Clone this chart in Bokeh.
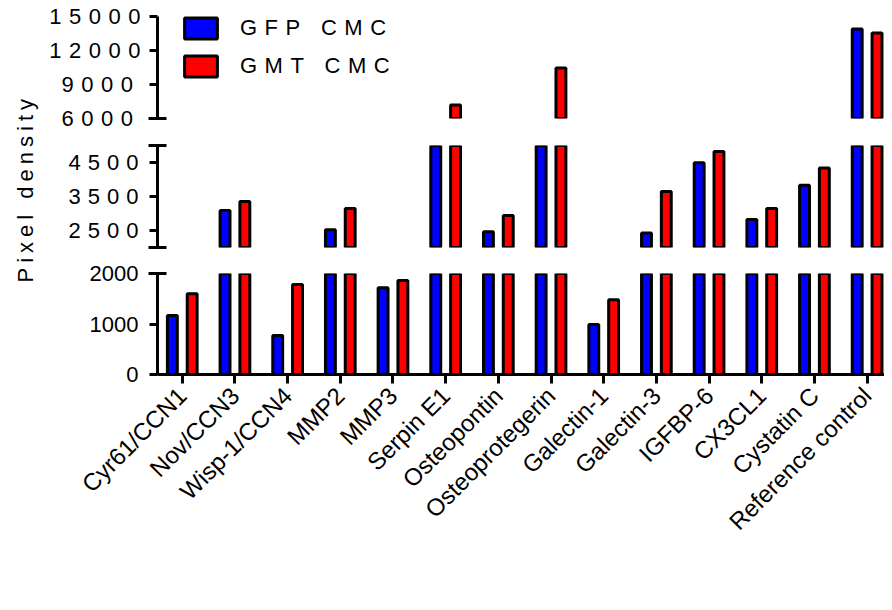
import math
from bokeh.plotting import figure
from bokeh.models import (Range1d, FixedTicker, ColumnDataSource, CDSView, BooleanFilter,
                          Legend, LegendItem, Label)
from bokeh.transform import dodge
from bokeh.layouts import column, row
from bokeh.embed import file_html
from bokeh.resources import INLINE

# ---- data ----
categories = ["Cyr61/CCN1", "Nov/CCN3", "Wisp-1/CCN4", "MMP2", "MMP3", "Serpin E1",
              "Osteopontin", "Osteoprotegerin", "Galectin-1", "Galectin-3", "IGFBP-6",
              "CX3CL1", "Cystatin C", "Reference control"]
gfp_cmc = [1170, 3090, 770, 2520, 1720, 5600, 2460, 5600, 990, 2430, 4490, 2820, 3830, 13900]
gmt_cmc = [1600, 3350, 1780, 3150, 1860, 7200, 2940, 10460, 1480, 3650, 4820, 3150, 4340, 13550]
series_names = ["GFP CMC", "GMT CMC"]
series_colors = ["#0000FF", "#FF0000"]

# axis segments (broken y axis)
top_seg = (6000, 15000)
top_ticks = [6000, 9000, 12000, 15000]
top_caps = [6000]
mid_seg = (2000, 5000)
mid_ticks = [2500, 3500, 4500]
mid_caps = [2000, 5000]
bot_seg = (0, 2000)
bot_ticks = [0, 1000, 2000]
bot_caps = [2000]
y_title = "Pixel density"

FONT = "Liberation Sans"
LABEL_W = 40
W = 884 - LABEL_W
LEFT = 157 - LABEL_W
H_TOTAL = 594

src = ColumnDataSource(dict(x=list(range(1, len(categories) + 1)), gfp=gfp_cmc, gmt=gmt_cmc))
xr = Range1d(0.53, 14.33)


def make_fig(h, tb, bb, seg, ticks, caps, standoff, spacing=None, with_x=False):
    p = figure(width=W, height=h, x_range=xr, y_range=Range1d(*seg),
               output_backend="svg", toolbar_location=None,
               min_border_left=LEFT, min_border_right=0,
               min_border_top=tb, min_border_bottom=bb,
               x_axis_location="below" if with_x else None)
    if spacing:
        p.styles = {"letter-spacing": spacing}
    p.outline_line_color = None
    p.xgrid.visible = False
    p.ygrid.visible = False
    p.background_fill_color = "white"
    p.border_fill_color = "white"
    ax = p.yaxis[0]
    ax.ticker = FixedTicker(ticks=ticks, minor_ticks=caps)
    ax.axis_line_width = 3
    ax.axis_line_color = "black"
    ax.major_tick_line_width = 3
    ax.major_tick_line_color = "black"
    ax.major_tick_out = 8
    ax.major_tick_in = 0
    ax.minor_tick_line_width = 3
    ax.minor_tick_line_color = "black"
    ax.minor_tick_in = 9
    ax.minor_tick_out = 9
    ax.major_label_text_font = FONT
    ax.major_label_text_font_size = "22px"
    ax.major_label_text_color = "black"
    ax.major_label_standoff = standoff
    lo = seg[0]
    v1 = CDSView(filter=BooleanFilter([v > lo for v in gfp_cmc]))
    v2 = CDSView(filter=BooleanFilter([v > lo for v in gmt_cmc]))
    r1 = p.vbar(x=dodge("x", -0.188, range=xr), top="gfp", bottom=0, width=0.188, source=src,
                view=v1, fill_color=series_colors[0], line_color="black", line_width=3)
    r2 = p.vbar(x=dodge("x", 0.188, range=xr), top="gmt", bottom=0, width=0.188, source=src,
                view=v2, fill_color=series_colors[1], line_color="black", line_width=3)
    return p, r1, r2


p_top, t1, t2 = make_fig(132, 16, 14, top_seg, top_ticks, top_caps, 38, spacing="7.5px")
p_mid, m1, m2 = make_fig(128, 13, 13, mid_seg, mid_ticks, mid_caps, 31, spacing="7px")
p_bot, b1, b2 = make_fig(334, 13, 220, bot_seg, bot_ticks, bot_caps, 10, with_x=True)

# legend in top panel
leg = Legend(items=[LegendItem(label=series_names[0], renderers=[t1]),
                    LegendItem(label=series_names[1], renderers=[t2])],
             location=(23, 33))
leg.glyph_width = 41
leg.glyph_height = 26
leg.label_height = 38
leg.spacing = 0
leg.padding = 0
leg.margin = 0
leg.border_line_color = None
leg.background_fill_alpha = 0
leg.label_text_font = FONT
leg.label_text_font_size = "22px"
leg.label_text_color = "black"
leg.label_text_baseline = "middle"
leg.label_standoff = 19
p_top.add_layout(leg, "center")

# x axis on bottom panel
xa = p_bot.xaxis[0]
xa.ticker = FixedTicker(ticks=list(range(1, len(categories) + 1)))
xa.major_label_overrides = {i + 1: c for i, c in enumerate(categories)}
xa.major_label_orientation = math.pi / 4
xa.axis_line_width = 3
xa.axis_line_color = "black"
xa.major_tick_line_width = 3
xa.major_tick_line_color = "black"
xa.major_tick_out = 9
xa.major_tick_in = 0
xa.minor_tick_line_color = None
xa.major_label_text_font = FONT
xa.major_label_text_font_size = "24px"
xa.major_label_text_color = "black"
xa.major_label_standoff = 8

# y title in its own narrow strip
p_lab = figure(width=LABEL_W, height=H_TOTAL, output_backend="svg", toolbar_location=None,
               x_axis_location=None, y_axis_location=None, min_border=0)
p_lab.styles = {"letter-spacing": "5px"}
p_lab.outline_line_color = None
p_lab.xgrid.visible = False
p_lab.ygrid.visible = False
p_lab.add_layout(Label(x=25, y=H_TOTAL - 282, x_units="screen", y_units="screen",
                       text=y_title, angle=math.pi / 2, text_align="left",
                       text_baseline="alphabetic", text_font=FONT,
                       text_font_size="22px", text_color="black"))

layout = row(p_lab, column(p_top, p_mid, p_bot, spacing=0), spacing=0)
open("out.html", "w").write(file_html(layout, INLINE))
